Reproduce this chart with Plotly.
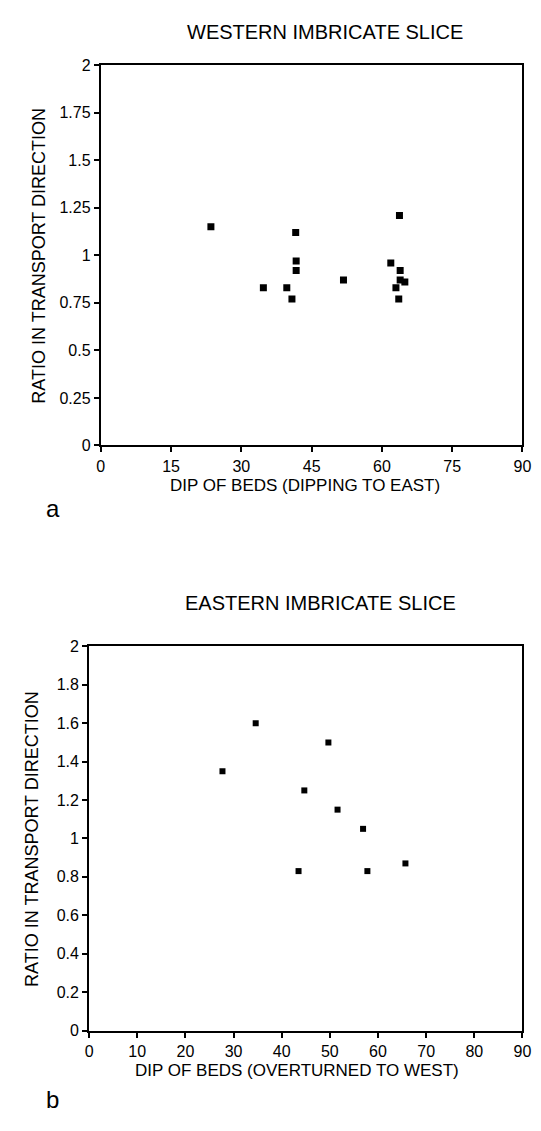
import plotly.graph_objects as go

W, H = 541, 1131

# ---- data: western imbricate slice (panel a)
west_dip = [23.5, 34.7, 39.7, 40.8, 41.6, 41.7, 41.7, 51.8, 61.9, 63.0, 63.75, 63.9, 63.9, 64.9, 63.6]
west_ratio = [1.15, 0.83, 0.83, 0.77, 1.12, 0.97, 0.92, 0.87, 0.96, 0.83, 1.21, 0.92, 0.87, 0.86, 0.77]
west_xticks = [0, 15, 30, 45, 60, 75, 90]
west_yticks = [0, 0.25, 0.5, 0.75, 1, 1.25, 1.5, 1.75, 2]
west_ylabels = ["0", "0.25", "0.5", "0.75", "1", "1.25", "1.5", "1.75", "2"]

# ---- data: eastern imbricate slice (panel b)
east_dip = [27.7, 34.6, 43.5, 44.7, 49.7, 51.6, 56.9, 57.8, 65.7]
east_ratio = [1.35, 1.6, 0.83, 1.25, 1.5, 1.15, 1.05, 0.83, 0.87]
east_xticks = [0, 10, 20, 30, 40, 50, 60, 70, 80, 90]
east_yticks = [0, 0.2, 0.4, 0.6, 0.8, 1, 1.2, 1.4, 1.6, 1.8, 2]
east_ylabels = ["0", "0.2", "0.4", "0.6", "0.8", "1", "1.2", "1.4", "1.6", "1.8", "2"]

FONT = "Liberation Sans, Arial, sans-serif"

def px_x(p):
    return p / W

def px_y(p):
    return 1 - p / H

fig = go.Figure()
fig.add_trace(go.Scatter(x=west_dip, y=west_ratio, mode="markers", xaxis="x", yaxis="y",
                         marker=dict(symbol="square", size=7, color="black"), showlegend=False))
fig.add_trace(go.Scatter(x=east_dip, y=east_ratio, mode="markers", xaxis="x2", yaxis="y2",
                         marker=dict(symbol="square", size=6, color="black"), showlegend=False))

axis_common = dict(showline=True, linecolor="black", linewidth=2, mirror=True, ticks="outside",
                   ticklen=5, tickwidth=1.5, tickcolor="black", showgrid=False, zeroline=False,
                   tickfont=dict(family=FONT, size=16, color="black"))

# panel geometry (pixels)
a_l, a_r, a_t, a_b = 91, 523, 50, 436
b_l, b_r, b_t, b_b = 79, 523, 640, 1030

fig.update_layout(
    width=W, height=H, margin=dict(l=0, r=0, t=0, b=0),
    paper_bgcolor="white", plot_bgcolor="white",
    xaxis=dict(domain=[px_x(a_l), px_x(a_r)], range=[0, 90], tickvals=west_xticks, anchor="y", **axis_common),
    yaxis=dict(domain=[px_y(a_b), px_y(a_t)], range=[0, 2], tickvals=west_yticks, ticktext=west_ylabels,
               anchor="x", **axis_common),
    xaxis2=dict(domain=[px_x(b_l), px_x(b_r)], range=[0, 90], tickvals=east_xticks, anchor="y2", **axis_common),
    yaxis2=dict(domain=[px_y(b_b), px_y(b_t)], range=[0, 2], tickvals=east_yticks, ticktext=east_ylabels,
                anchor="x2", **axis_common),
)

def ann(text, x, y, size, angle=0):
    fig.add_annotation(text=text, x=px_x(x), y=px_y(y), xref="paper", yref="paper", showarrow=False,
                       textangle=angle, xanchor="center", yanchor="middle",
                       font=dict(family=FONT, size=size, color="black"))

ann("WESTERN IMBRICATE SLICE", 321, 16, 20)
ann("RATIO IN TRANSPORT DIRECTION", 28, 243, 18, -90)
ann("DIP OF BEDS (DIPPING TO EAST)", 300, 477, 17)
ann("a", 42, 500, 24)

ann("EASTERN IMBRICATE SLICE", 316, 596, 20)
ann("RATIO IN TRANSPORT DIRECTION", 21, 835, 18, -90)
ann("DIP OF BEDS (OVERTURNED TO WEST)", 292, 1071, 17)
ann("b", 42, 1100, 24)

fig.write_html("out.html")
